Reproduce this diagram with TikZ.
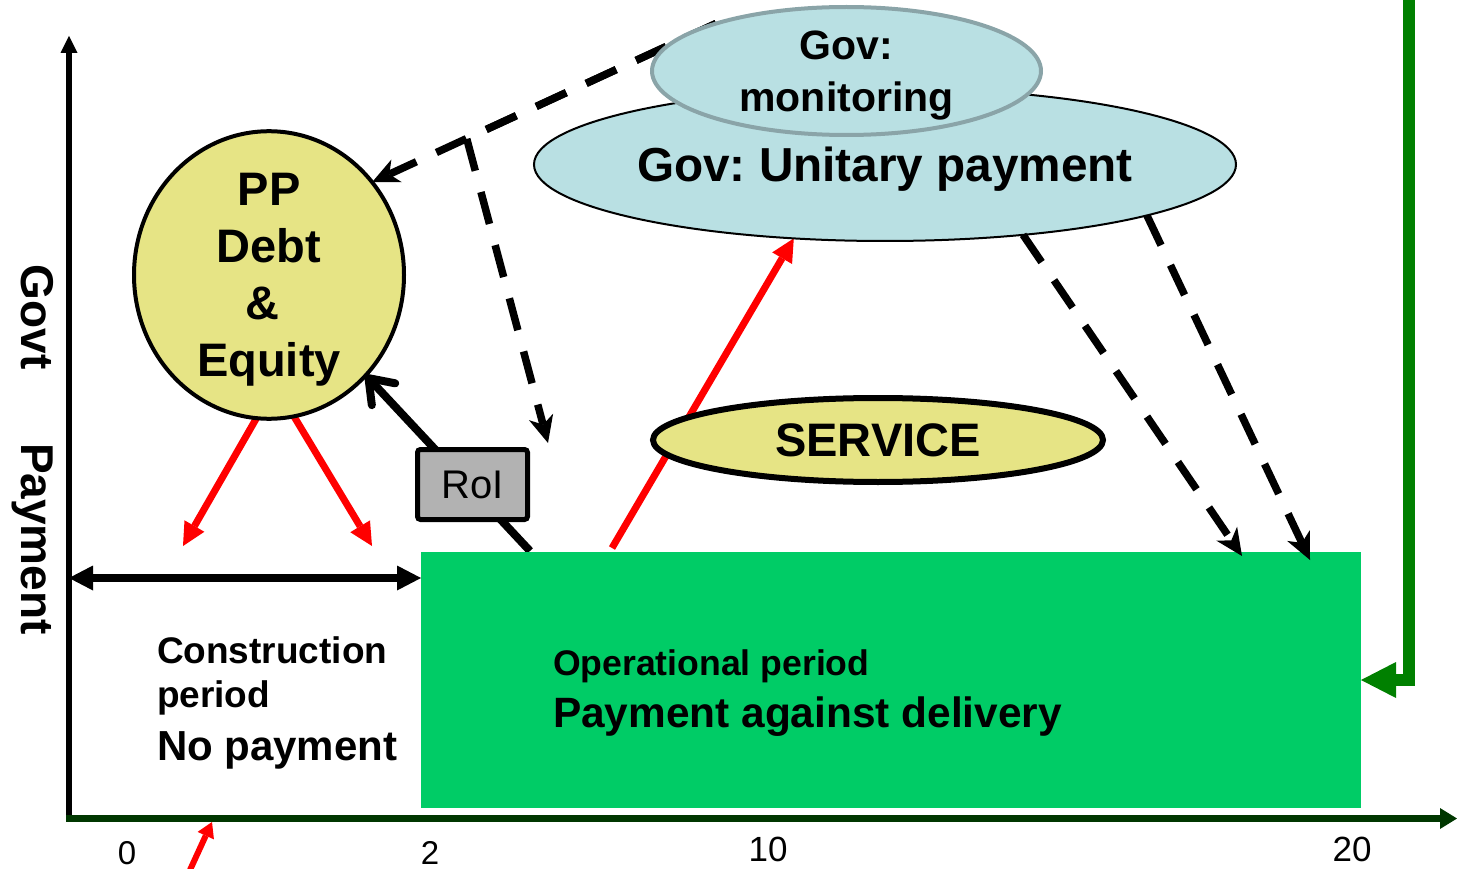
\documentclass[tikz,border=0pt]{standalone}
\usepackage{fontspec}
\setmainfont{Liberation Sans}
\usetikzlibrary{arrows.meta,shapes.geometric,calc}
\definecolor{govblue}{RGB}{185,224,227}
\definecolor{monedge}{RGB}{138,164,168}
\definecolor{ppyellow}{RGB}{230,228,133}
\definecolor{opgreen}{RGB}{0,204,102}
\definecolor{fbgreen}{RGB}{0,128,0}
\definecolor{axisgreen}{RGB}{0,55,0}
\definecolor{roigray}{RGB}{178,178,178}
\pgfdeclarelayer{behind}
\pgfsetlayers{behind,main}
\frenchspacing
\begin{document}
\begin{tikzpicture}[x=1pt,y=-1pt,
  every node/.style={inner sep=0pt,outer sep=0pt},
  bf/.style={font=\bfseries\fontsize{#1}{#1}\selectfont},
  rg/.style={font=\fontsize{#1}{#1}\selectfont},
  bubble/.style={ellipse,draw=black,fill=ppyellow,text depth=0pt},
  govell/.style={ellipse,fill=govblue,text depth=0pt},
  redarrow/.style={draw=red,line width=7pt,-{Triangle[length=23pt,width=23pt,line width=0pt]}},
  dashline/.style={line width=7.5pt,dash pattern=on 33pt off 22pt,
    -{Stealth[length=27pt,width=25pt,inset=8pt,line width=0pt]}},
  solidtip/.style={-{Triangle[length=#1,width=#1,line width=0pt]}},
]
\useasboundingbox (0,0) rectangle (1457,869);

% axes
\coordinate (O) at (69,818);
\coordinate (ytop) at (69,36);
\coordinate (xstart) at (66,818.5);
\coordinate (xend) at (1457,818.5);
\draw[line width=6.5pt,solidtip=17pt] (O) -- (ytop);
\draw[axisgreen,line width=7pt,-{Triangle[length=17pt,width=21pt,line width=0pt]}] (xstart) -- (xend);

% tick labels
\node[rg=33,anchor=base] (t0) at (127,864) {0};
\node[rg=33,anchor=base] (t2) at (430,864) {2};
\node[rg=35,anchor=base] (t10) at (768,861) {10};
\node[rg=35,anchor=base] (t20) at (1352,861) {20};

% axis title
\node[bf=46,anchor=base west,rotate=-90] (ylab1) at (21,265) {Govt};
\node[bf=46,anchor=base west,rotate=-90] (ylab2) at (21,443) {Payment};

% operational period block
\node[fill=opgreen,minimum width=940pt,minimum height=256pt,anchor=north west] (op) at (421,552) {};
\node[bf=35.6,anchor=base west] (optxt1) at (553,675) {Operational period};
\node[bf=42.4,anchor=base west] (optxt2) at (553,727) {Payment against delivery};

% construction period text
\node[bf=37,anchor=base west] (ctxt1) at (157,663) {Construction};
\node[bf=37,anchor=base west] (ctxt2) at (157,707) {period};
\node[bf=42,anchor=base west] (ctxt3) at (157,760) {No payment};

% government ellipses
\node[govell,draw=black,line width=2pt,minimum width=702pt,minimum height=153pt,bf=47.7]
  (unit) at (885,164.5) {Gov: Unitary payment};
\node[govell,draw=monedge,line width=4pt,minimum width=389pt,minimum height=128pt,
  align=center,font=\bfseries\fontsize{41}{52}\selectfont]
  (mon) at (846.5,71) {Gov:\\monitoring};

% private partner finance
\node[bubble,line width=4pt,minimum width=270pt,minimum height=286pt,align=center,
  font=\bfseries\fontsize{47}{57}\selectfont]
  (pp) at (269,275) {PP\\Debt\\\kern-14pt\&\\Equity};

% service
\node[bubble,line width=6pt,minimum width=450pt,minimum height=84pt,bf=47]
  (srv) at (878,440) {SERVICE};

% return on investment
\node[draw=black,line width=5pt,fill=roigray,rounded corners=3pt,minimum width=110pt,
  minimum height=70pt,rg=40,text depth=0pt] (roi) at (472.5,484.5) {RoI};

% free ends of connectors
\coordinate (split) at ($(mon.160)!0.725!(pp.42.4)$);
\coordinate (dtip) at (548,443);
\coordinate (d3) at (1242,556);
\coordinate (d4) at (1310,560);
\coordinate (r1) at (612,548);
\coordinate (ra1) at (183,546);
\coordinate (ra2) at (372,546);
\coordinate (roistart) at (530,551);
\coordinate (dl) at (69,578);
\coordinate (fbtop) at (1409,0);
\coordinate (sr0) at (190,870);
\coordinate (sr1) at (212,822);

\begin{pgfonlayer}{behind}
  \draw[dashline] (mon.160) -- (pp.42.4);
  \draw[dashline] (mon.160) -- (split) -- (dtip);
  \draw[redarrow] (r1) -- (unit.-141.3);
  \draw[redarrow] (pp.-95.6) -- (ra1);
  \draw[redarrow] (pp.-80.9) -- (ra2);
  \draw[line width=8pt,-{Straight Barb[length=22pt,width=32pt,round]}] (roistart) -- (pp.-46.1);
\end{pgfonlayer}

% payment flows
\draw[dashline] (unit.-27.5) -- (d3);
\draw[dashline] (unit.-11.3) -- (d4);

% construction period span
\draw[line width=7.5pt,{Triangle[length=24pt,width=25pt,line width=0pt]}-{Triangle[length=24pt,width=25pt,line width=0pt]}]
  (dl) -- (dl -| op.west);

% feedback loop
\draw[fbgreen,line width=12pt,-{Triangle[length=35pt,width=36pt,line width=0pt]}] (fbtop) |- (op.east);

% start marker
\draw[draw=red,line width=6pt,-{Triangle[length=15pt,width=18pt,line width=0pt]}] (sr0) -- (sr1);
\end{tikzpicture}
\end{document}
